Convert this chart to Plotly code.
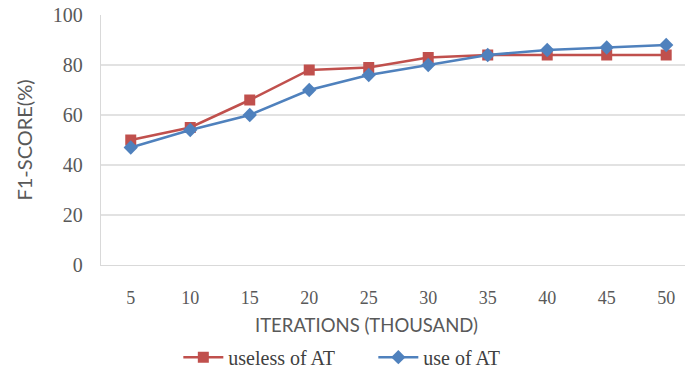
import plotly.graph_objects as go

iterations = [5, 10, 15, 20, 25, 30, 35, 40, 45, 50]
useless_at = [50, 55, 66, 78, 79, 83, 84, 84, 84, 84]
use_at = [47, 54, 60, 70, 76, 80, 84, 86, 87, 88]
y_ticks = [0, 20, 40, 60, 80, 100]
grid_vals = [20, 40, 60, 80]

RED = "#C0504D"
BLUE = "#4F81BD"
GRID = "#D9D9D9"
SERIF = "Liberation Serif, Times New Roman, serif"
SANS = "Lato, Carlito, Calibri, sans-serif"

fig = go.Figure()
fig.add_trace(go.Scatter(
    x=iterations, y=useless_at, name="useless of AT", mode="lines+markers",
    line=dict(color=RED, width=2.5),
    marker=dict(symbol="square", size=11, color=RED),
))
fig.add_trace(go.Scatter(
    x=iterations, y=use_at, name="use of AT", mode="lines+markers",
    line=dict(color=BLUE, width=2.5),
    marker=dict(symbol="diamond", size=11, color=BLUE),
))

for g in grid_vals:
    fig.add_shape(type="line", xref="paper", x0=0, x1=1, yref="y", y0=g, y1=g,
                  line=dict(color=GRID, width=1.3), layer="below")

fig.add_annotation(text="ITERATIONS (THOUSAND)", xref="paper", yref="paper",
                   x=(366 - 101) / 584, y=-60 / 250, xanchor="center", yanchor="middle",
                   showarrow=False, font=dict(family=SANS, size=18.5, color="#595959"))

fig.update_layout(
    width=685, height=376,
    margin=dict(l=101, r=0, t=15, b=111),
    plot_bgcolor="white", paper_bgcolor="white",
    showlegend=True,
    legend=dict(orientation="h", xref="container", yref="container",
                x=0.545, xanchor="center", y=0.05, yanchor="middle",
                font=dict(family=SERIF, size=20, color="#404040"),
                itemwidth=40, entrywidth=140, tracegroupgap=0),
    xaxis=dict(
        range=[2.5, 51.58], tickvals=iterations, ticktext=[str(v) for v in iterations],
        showgrid=False, zeroline=False, showline=True, linecolor=GRID, linewidth=1.3,
        ticks="", tickfont=dict(family=SERIF, size=18, color="#595959"),
        ticklabelstandoff=16,
    ),
    yaxis=dict(
        range=[0, 100], tickvals=y_ticks,
        showgrid=False, zeroline=False, showline=True, linecolor=GRID, linewidth=1.3,
        ticks="", tickfont=dict(family=SERIF, size=20, color="#595959"),
        ticklabelstandoff=13,
        title=dict(text="F1-SCORE(%)", font=dict(family=SANS, size=20, color="#595959"),
                   standoff=14),
    ),
)

fig.write_html("out.html", config={"displayModeBar": False},
               post_script="document.body.style.margin='0';document.body.style.overflow='hidden';")
